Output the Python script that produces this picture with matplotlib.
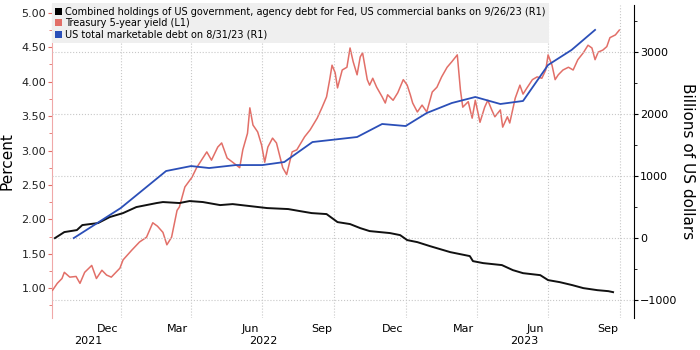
import matplotlib
matplotlib.use("Agg")
import matplotlib.pyplot as plt
import matplotlib.dates as mdates
import matplotlib.transforms as mtransforms
from matplotlib.patches import Patch
import numpy as np
import pandas as pd

# Treasury 5-year yield, percent (left axis)
yield_dates = [
    "2021-10-06", "2021-10-12", "2021-10-18", "2021-10-21", "2021-10-28", "2021-11-05",
    "2021-11-10", "2021-11-16", "2021-11-25", "2021-12-01", "2021-12-08", "2021-12-14",
    "2021-12-20", "2021-12-31", "2022-01-04", "2022-01-15", "2022-01-25", "2022-02-03",
    "2022-02-11", "2022-02-17", "2022-02-24", "2022-03-01", "2022-03-07", "2022-03-14",
    "2022-03-17", "2022-03-24", "2022-04-02", "2022-04-08", "2022-04-12", "2022-04-21",
    "2022-04-27", "2022-05-05", "2022-05-10", "2022-05-17", "2022-05-24", "2022-06-02",
    "2022-06-06", "2022-06-12", "2022-06-15", "2022-06-19", "2022-06-25", "2022-06-30",
    "2022-07-04", "2022-07-08", "2022-07-14", "2022-07-19", "2022-07-23", "2022-07-27",
    "2022-08-01", "2022-08-08", "2022-08-14", "2022-08-24", "2022-08-31", "2022-09-09",
    "2022-09-15", "2022-09-21", "2022-09-25", "2022-09-28", "2022-10-02", "2022-10-05",
    "2022-10-11", "2022-10-17", "2022-10-21", "2022-10-25", "2022-10-30", "2022-11-03",
    "2022-11-06", "2022-11-12", "2022-11-15", "2022-11-19", "2022-11-24", "2022-12-01",
    "2022-12-05", "2022-12-08", "2022-12-15", "2022-12-21", "2022-12-28", "2023-01-02",
    "2023-01-06", "2023-01-09", "2023-01-15", "2023-01-21", "2023-01-27", "2023-02-03",
    "2023-02-09", "2023-02-15", "2023-02-22", "2023-02-28", "2023-03-07", "2023-03-11",
    "2023-03-14", "2023-03-21", "2023-03-26", "2023-03-30", "2023-04-05", "2023-04-11",
    "2023-04-15", "2023-04-20", "2023-04-24", "2023-05-01", "2023-05-04", "2023-05-10",
    "2023-05-13", "2023-05-20", "2023-05-26", "2023-05-30", "2023-06-04", "2023-06-11",
    "2023-06-17", "2023-06-23", "2023-06-28", "2023-07-01", "2023-07-06", "2023-07-10",
    "2023-07-14", "2023-07-20", "2023-07-27", "2023-08-02", "2023-08-08", "2023-08-15",
    "2023-08-21", "2023-08-26", "2023-08-30", "2023-09-03", "2023-09-09", "2023-09-14",
    "2023-09-18", "2023-09-25", "2023-09-30",
]
yield_vals = [
    0.97, 1.07, 1.14, 1.23, 1.16, 1.17,
    1.07, 1.23, 1.33, 1.14, 1.26, 1.19,
    1.16, 1.29, 1.41, 1.55, 1.67, 1.74,
    1.95, 1.90, 1.81, 1.63, 1.74, 2.13,
    2.18, 2.47, 2.61, 2.75, 2.82, 2.98,
    2.86, 3.05, 3.11, 2.89, 2.83, 2.75,
    3.01, 3.25, 3.62, 3.37, 3.27, 3.08,
    2.83, 3.05, 3.18, 3.11, 2.93, 2.75,
    2.65, 2.98, 3.01, 3.20, 3.30, 3.47,
    3.62, 3.78, 4.03, 4.24, 4.13, 3.91,
    4.17, 4.21, 4.49, 4.29, 4.10, 4.36,
    4.42, 4.03, 3.95, 4.05, 3.92, 3.78,
    3.69, 3.81, 3.73, 3.84, 4.03, 3.95,
    3.81, 3.69, 3.56, 3.66, 3.56, 3.85,
    3.92, 4.07, 4.21, 4.29, 4.39, 3.88,
    3.63, 3.71, 3.47, 3.73, 3.41, 3.63,
    3.73, 3.59, 3.49, 3.59, 3.34, 3.49,
    3.40, 3.76, 3.95, 3.82, 3.91, 4.03,
    4.07, 4.05, 4.17, 4.39, 4.24, 4.03,
    4.10, 4.17, 4.21, 4.17, 4.32, 4.42,
    4.53, 4.49, 4.32, 4.43, 4.46, 4.51,
    4.64, 4.68, 4.75,
]

# Combined holdings (Fed + US commercial banks), billions USD (right axis)
hold_dates = [
    "2021-10-09", "2021-10-21", "2021-11-06", "2021-11-13", "2021-12-03", "2021-12-18",
    "2022-01-04", "2022-01-21", "2022-02-16", "2022-02-24", "2022-03-17", "2022-03-30",
    "2022-04-16", "2022-05-08", "2022-05-24", "2022-07-07", "2022-08-03", "2022-08-18",
    "2022-09-02", "2022-09-21", "2022-10-05", "2022-10-21", "2022-11-03", "2022-11-15",
    "2022-12-11", "2022-12-24", "2023-01-02", "2023-01-15", "2023-01-31", "2023-02-26",
    "2023-03-23", "2023-03-27", "2023-04-09", "2023-05-03", "2023-05-17", "2023-05-30",
    "2023-06-21", "2023-07-01", "2023-07-16", "2023-08-01", "2023-08-15", "2023-09-02",
    "2023-09-16", "2023-09-22",
]
hold_vals = [
    0, 97, 129, 210, 242, 339,
    403, 500, 565, 581, 565, 597,
    581, 532, 548, 484, 468, 435,
    403, 387, 258, 226, 161, 113,
    81, 48, -32, -65, -129, -226,
    -290, -371, -403, -435, -516, -565,
    -597, -677, -710, -758, -806, -839,
    -855, -871,
]

# US total marketable debt, billions USD (right axis)
debt_dates = [
    "2021-11-02", "2022-01-01", "2022-02-28", "2022-04-01", "2022-04-24", "2022-05-28",
    "2022-07-01", "2022-07-29", "2022-09-03", "2022-10-30", "2022-12-01", "2022-12-31",
    "2023-01-27", "2023-02-28", "2023-03-30", "2023-05-01", "2023-05-30", "2023-07-01",
    "2023-07-31", "2023-08-30",
]
debt_vals = [
    0, 484, 1081, 1161, 1129, 1177,
    1177, 1226, 1548, 1629, 1839, 1806,
    2016, 2177, 2274, 2161, 2210, 2790,
    3032, 3355,
]

legend_labels = [
    "Combined holdings of US government, agency debt for Fed, US commercial banks on 9/26/23 (R1)",
    "Treasury 5-year yield (L1)",
    "US total marketable debt on 8/31/23 (R1)",
]
year_labels = ["2021", "2022", "2023"]
year_pos = ["2021-11-20", "2022-07-02", "2023-06-01"]

RED = "#e26f68"
BLUE = "#2b4fb8"

fig = plt.figure(figsize=(7, 3.5), dpi=100)
ax = fig.add_axes([0.074, 0.091, 0.832, 0.895])
ax2 = ax.twinx()

ax.plot(pd.to_datetime(yield_dates), yield_vals, color=RED, lw=1.1, zorder=3)
ax2.plot(pd.to_datetime(hold_dates), hold_vals, color="#111111", lw=1.4, zorder=3)
ax2.plot(pd.to_datetime(debt_dates), debt_vals, color=BLUE, lw=1.3, zorder=4)

ax.set_xlim(pd.Timestamp("2021-10-05"), pd.Timestamp("2023-10-19"))
ax.set_ylim(0.564, 5.116)
ax2.set_ylim(-1290, 3758)

# left axis
ax.set_yticks(np.arange(1.0, 5.01, 0.5))
ax.set_yticks(np.arange(0.75, 5.01, 0.25), minor=True)
ax.yaxis.set_major_formatter("{x:.2f}")
ax.tick_params(axis="y", which="both", color=RED, labelcolor="#222222",
               direction="out", labelsize=8, pad=1)
ax.tick_params(axis="y", which="major", length=3)
ax.tick_params(axis="y", which="minor", length=2)
ax.set_ylabel("Percent", fontsize=11, labelpad=5)

# right axis
ax2.set_yticks(np.arange(-1000, 3001, 1000))
ax2.set_yticks(np.arange(-1000, 3501, 500), minor=True)
ax2.tick_params(axis="y", which="both", direction="out", labelsize=8, pad=1)
ax2.tick_params(axis="y", which="major", length=3)
ax2.tick_params(axis="y", which="minor", length=2)
ax2.set_ylabel("Billions of US dollars", fontsize=11, rotation=270, labelpad=13)

for s in ["top", "bottom", "right"]:
    ax.spines[s].set_visible(False)
ax.spines["left"].set_color("#f0a8a8")
for s in ["top", "bottom", "left"]:
    ax2.spines[s].set_visible(False)
ax2.spines["right"].set_color("black")

# x axis: gridlines on quarter starts, month names mid-month
ax.xaxis.set_major_locator(mdates.MonthLocator(bymonth=[1, 4, 7, 10]))
ax.xaxis.set_major_formatter(mdates.DateFormatter(""))
ax.xaxis.set_minor_locator(mdates.MonthLocator(bymonth=[3, 6, 9, 12], bymonthday=15))
ax.xaxis.set_minor_formatter(mdates.DateFormatter("%b"))
ax.tick_params(axis="x", which="both", length=0, labelsize=8, pad=4)
ax.grid(axis="x", which="major", ls=":", color="#c8c8c8", lw=0.8)
ax2.grid(axis="y", which="major", ls=":", color="#c8c8c8", lw=0.8)

trans = mtransforms.blended_transform_factory(ax.transData, ax.transAxes)
for lab, pos in zip(year_labels, year_pos):
    ax.text(pd.Timestamp(pos), -0.073, lab, transform=trans, ha="center",
            va="center", fontsize=8)

handles = [Patch(fc="black"), Patch(fc=RED), Patch(fc=BLUE)]
leg = ax2.legend(handles, legend_labels, loc="upper left", bbox_to_anchor=(0.0, 1.005),
                 borderaxespad=0, fancybox=False, fontsize=7, handlelength=0.7,
                 handleheight=0.7, handletextpad=0.3, labelspacing=0.15,
                 borderpad=0.35, framealpha=1)
leg.get_frame().set_facecolor("#efefef")
leg.get_frame().set_edgecolor("none")
leg.set_zorder(10)

fig.savefig("out.png", dpi=100)
